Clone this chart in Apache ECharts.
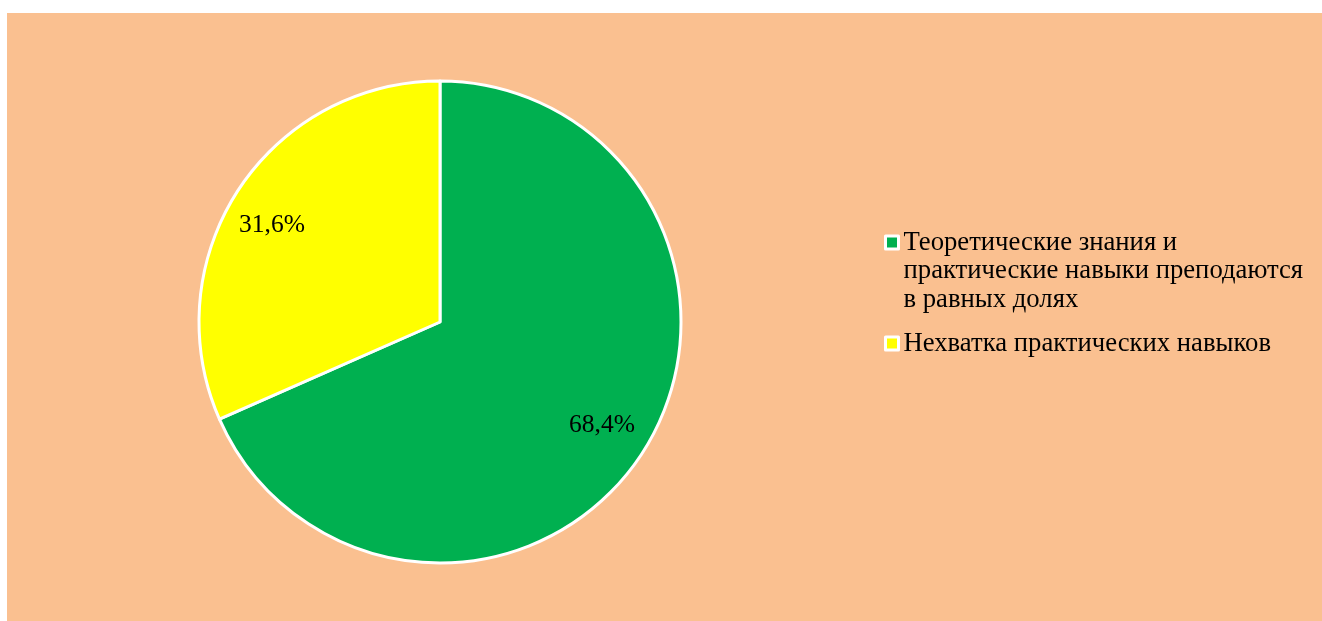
<!DOCTYPE html>
<html>
<head>
<meta charset="utf-8">
<script src="https://cdn.jsdelivr.net/npm/echarts@6/dist/echarts.min.js"></script>
<style>
  html, body { margin: 0; padding: 0; background: #ffffff; }
  #wrap { position: relative; width: 1322px; height: 621px; background: #ffffff; overflow: hidden; }
  #bg { position: absolute; left: 7px; top: 13px; width: 1315px; height: 608px; background: #FAC090; }
  #chart { position: absolute; left: 0; top: 0; width: 1322px; height: 621px; }
</style>
</head>
<body>
<div id="wrap"><div id="bg"></div><div id="chart"></div></div>
<script>
const categories = [
  'Теоретические знания и\nпрактические навыки преподаются\nв равных долях',
  'Нехватка практических навыков'
];
const values = [68.4, 31.6];
const colors = ['#00B050', '#FFFF00'];
const labels = ['68,4%', '31,6%'];

const FONT = '"Liberation Serif", "Times New Roman", serif';
const chart = echarts.init(document.getElementById('chart'), null, { renderer: 'canvas' });

const data = categories.map((c, i) => ({
  name: c, value: values[i], itemStyle: { color: colors[i] }
}));
const labelOffsets = [[-3, -4], [-3, 11]];
const labelData = categories.map((c, i) => ({
  name: c, value: values[i], label: { formatter: labels[i], offset: labelOffsets[i] }
}));

const legendBase = {
  orient: 'vertical', left: 884, padding: 0,
  itemWidth: 13, itemHeight: 13, icon: 'rect',
  itemStyle: { borderColor: '#ffffff', borderWidth: 3 },
  textStyle: { fontFamily: FONT, fontSize: 26.7, lineHeight: 28.5, color: '#000000' },
  selectedMode: false
};

chart.setOption({
  backgroundColor: 'transparent',
  animation: false,
  legend: [
    Object.assign({}, legendBase, {
      data: [categories[0]], top: 171.25,
      formatter: function (n) { return '\n\n' + n; }
    }),
    Object.assign({}, legendBase, {
      data: [categories[1]], top: 329.25
    })
  ],
  series: [
    {
      type: 'pie',
      center: [440, 322],
      radius: 241,
      startAngle: 90,
      clockwise: true,
      data: data,
      itemStyle: { borderColor: '#ffffff', borderWidth: 3 },
      label: { show: false },
      labelLine: { show: false },
      emphasis: { disabled: true },
      silent: true
    },
    {
      type: 'pie',
      center: [440, 322],
      radius: 388,
      startAngle: 90,
      clockwise: true,
      data: labelData,
      itemStyle: { color: 'rgba(0,0,0,0)', borderWidth: 0 },
      label: { show: true, position: 'inside', fontFamily: FONT, fontSize: 25.5, color: '#000000' },
      labelLine: { show: false },
      emphasis: { disabled: true },
      silent: true,
      legendHoverLink: false
    }
  ]
});
</script>
</body>
</html>
